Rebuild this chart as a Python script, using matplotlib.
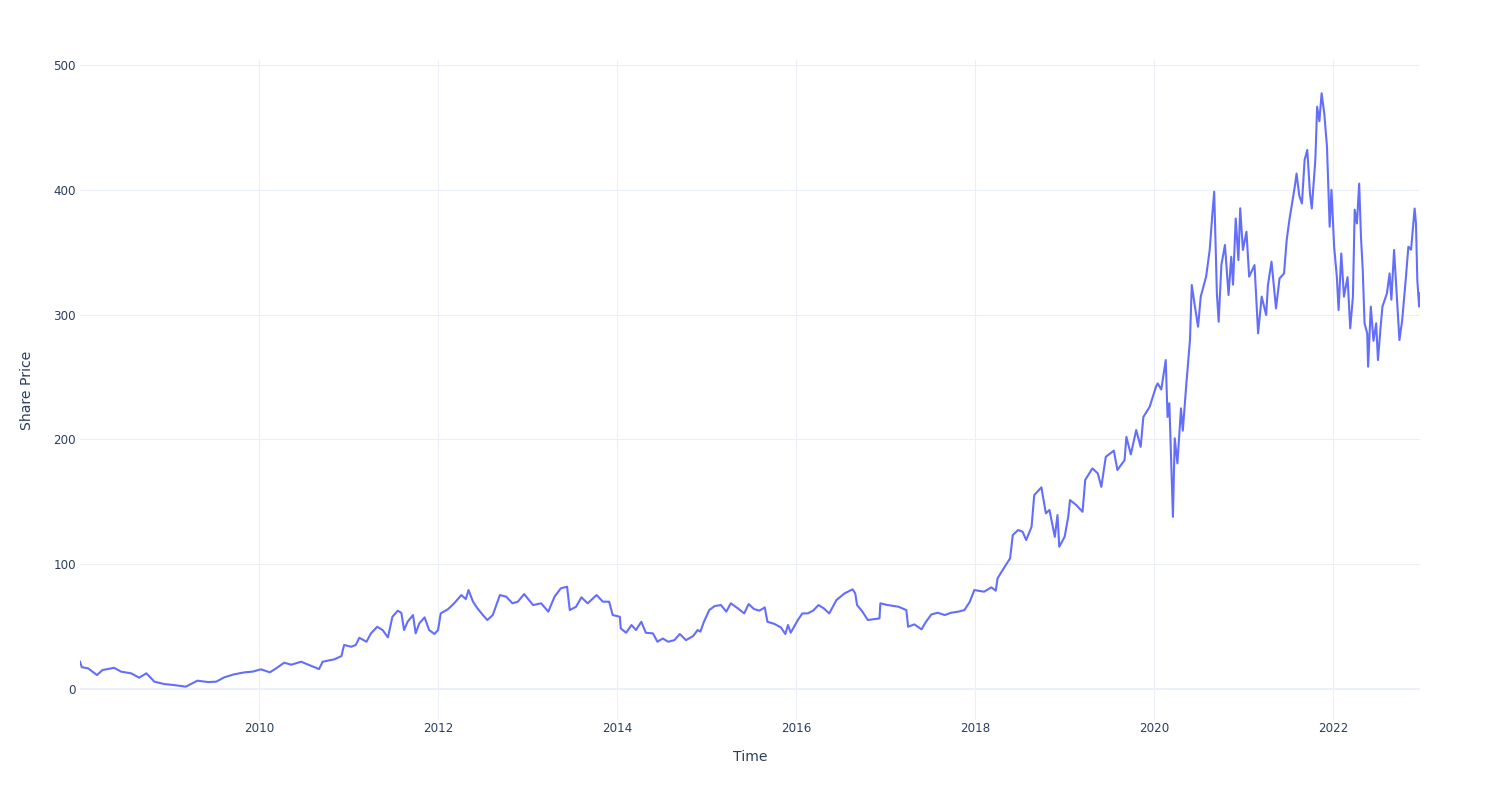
import matplotlib
matplotlib.use("Agg")
import matplotlib.pyplot as plt
import matplotlib.dates as mdates
from datetime import datetime, timedelta

# Decimal-year positions and share price values
years = [
    2008.00, 2008.02, 2008.09, 2008.19, 2008.25, 2008.38, 2008.46, 2008.57, 2008.66, 2008.74,
    2008.83, 2008.94, 2009.05, 2009.18, 2009.31, 2009.43, 2009.52, 2009.61, 2009.72, 2009.84,
    2009.93, 2010.02, 2010.12, 2010.19, 2010.28, 2010.36, 2010.47, 2010.56, 2010.67, 2010.71,
    2010.84, 2010.92, 2010.95, 2011.03, 2011.08, 2011.12, 2011.20, 2011.25, 2011.32, 2011.38,
    2011.44, 2011.49, 2011.55, 2011.59, 2011.62, 2011.66, 2011.72, 2011.75, 2011.79, 2011.85,
    2011.90, 2011.96, 2012.00, 2012.03, 2012.11, 2012.18, 2012.26, 2012.31, 2012.34, 2012.39,
    2012.44, 2012.50, 2012.55, 2012.61, 2012.69, 2012.76, 2012.83, 2012.89, 2012.96, 2013.06,
    2013.15, 2013.23, 2013.30, 2013.37, 2013.44, 2013.47, 2013.54, 2013.60, 2013.67, 2013.77,
    2013.84, 2013.91, 2013.95, 2014.03, 2014.04, 2014.10, 2014.16, 2014.21, 2014.27, 2014.32,
    2014.40, 2014.45, 2014.51, 2014.57, 2014.64, 2014.70, 2014.77, 2014.85, 2014.90, 2014.93,
    2014.97, 2015.03, 2015.09, 2015.16, 2015.22, 2015.27, 2015.35, 2015.42, 2015.47, 2015.53,
    2015.59, 2015.65, 2015.68, 2015.76, 2015.83, 2015.88, 2015.91, 2015.94, 2016.02, 2016.07,
    2016.13, 2016.19, 2016.25, 2016.31, 2016.37, 2016.45, 2016.54, 2016.63, 2016.66, 2016.68,
    2016.74, 2016.80, 2016.87, 2016.93, 2016.94, 2017.02, 2017.14, 2017.23, 2017.25, 2017.32,
    2017.40, 2017.45, 2017.51, 2017.58, 2017.66, 2017.73, 2017.81, 2017.88, 2017.94, 2017.99,
    2018.10, 2018.18, 2018.23, 2018.25, 2018.33, 2018.39, 2018.42, 2018.48, 2018.53, 2018.57,
    2018.63, 2018.66, 2018.74, 2018.79, 2018.83, 2018.89, 2018.92, 2018.94, 2019.00, 2019.04,
    2019.06, 2019.13, 2019.20, 2019.23, 2019.31, 2019.37, 2019.41, 2019.46, 2019.55, 2019.59,
    2019.67, 2019.69, 2019.74, 2019.80, 2019.85, 2019.88, 2019.95, 2020.02, 2020.04, 2020.08,
    2020.13, 2020.15, 2020.17, 2020.21, 2020.23, 2020.26, 2020.30, 2020.32, 2020.36, 2020.40,
    2020.42, 2020.45, 2020.49, 2020.52, 2020.58, 2020.62, 2020.65, 2020.67, 2020.70, 2020.72,
    2020.75, 2020.79, 2020.83, 2020.86, 2020.88, 2020.91, 2020.94, 2020.96, 2020.99, 2021.03,
    2021.06, 2021.12, 2021.16, 2021.20, 2021.25, 2021.27, 2021.31, 2021.36, 2021.40, 2021.45,
    2021.48, 2021.51, 2021.57, 2021.59, 2021.62, 2021.65, 2021.68, 2021.71, 2021.74, 2021.76,
    2021.80, 2021.82, 2021.845, 2021.87, 2021.90, 2021.93, 2021.96, 2021.98, 2022.01, 2022.04,
    2022.06, 2022.09, 2022.12, 2022.16, 2022.19, 2022.22, 2022.24, 2022.265, 2022.29, 2022.31,
    2022.33, 2022.35, 2022.38, 2022.39, 2022.42, 2022.45, 2022.48, 2022.50, 2022.53, 2022.55,
    2022.60, 2022.63, 2022.65, 2022.68, 2022.72, 2022.74, 2022.77, 2022.81, 2022.84, 2022.87,
    2022.91, 2022.925, 2022.94, 2022.96, 2022.97,
]

prices = [
    21.9, 17.5, 16.6, 11.2, 15.2, 17.0, 13.9, 12.6, 9.1, 12.6,
    5.9, 4.0, 3.2, 1.9, 6.7, 5.6, 5.9, 9.4, 11.8, 13.4,
    14.0, 15.8, 13.4, 16.6, 21.1, 19.5, 21.9, 19.2, 16.0, 21.9,
    23.8, 26.4, 35.3, 33.9, 35.3, 41.1, 37.9, 44.6, 49.9, 47.3,
    41.4, 57.9, 62.8, 61.0, 47.3, 53.9, 59.3, 44.6, 52.6, 57.4,
    47.3, 44.1, 47.3, 60.6, 63.9, 68.7, 75.3, 72.1, 79.3, 70.0,
    64.6, 59.3, 55.3, 59.3, 75.3, 74.0, 68.7, 70.0, 76.1, 67.3,
    68.7, 62.0, 74.0, 80.7, 82.0, 63.3, 65.9, 73.5, 68.7, 75.3,
    70.0, 70.0, 59.3, 57.9, 48.6, 45.1, 51.3, 47.3, 53.9, 45.1,
    44.6, 37.9, 40.5, 37.9, 39.2, 44.1, 39.2, 42.5, 47.3, 46.0,
    53.9, 63.3, 66.5, 67.3, 62.0, 68.7, 64.6, 60.6, 68.1, 64.1,
    62.8, 65.4, 53.9, 52.1, 49.4, 44.1, 51.3, 45.1, 55.3, 60.6,
    60.6, 62.8, 67.3, 64.6, 60.6, 71.3, 76.6, 79.9, 76.6, 67.3,
    62.0, 55.3, 56.0, 56.6, 68.7, 67.3, 66.0, 63.3, 49.9, 51.8,
    47.8, 53.9, 59.8, 61.1, 59.3, 61.1, 62.0, 63.3, 70.0, 79.3,
    78.0, 81.5, 78.8, 88.7, 98.0, 104.7, 123.4, 127.4, 126.0, 119.4,
    130.0, 155.4, 161.6, 140.8, 143.5, 122.0, 139.4, 114.0, 122.0, 138.0,
    151.4, 147.4, 142.0, 167.5, 176.8, 172.8, 162.0, 186.1, 191.0, 175.5,
    183.4, 202.0, 188.0, 207.5, 194.0, 218.0, 226.0, 242.0, 244.9, 240.0,
    263.6, 218.0, 229.0, 138.0, 200.9, 180.8, 224.9, 207.0, 245.0, 279.6,
    323.7, 309.0, 290.3, 314.4, 330.4, 351.8, 381.0, 398.5, 317.0, 294.3,
    339.7, 355.8, 315.7, 346.4, 324.0, 377.0, 343.7, 385.2, 351.8, 366.4,
    330.4, 339.7, 285.0, 314.4, 299.7, 323.7, 342.4, 305.0, 329.0, 333.0,
    360.0, 376.0, 402.5, 413.0, 395.5, 389.0, 424.0, 431.9, 397.0, 385.0,
    424.0, 466.6, 455.0, 477.3, 461.0, 434.5, 370.4, 400.0, 354.4, 330.4,
    303.7, 349.0, 314.4, 330.0, 289.0, 314.4, 384.0, 373.0, 405.0, 362.4,
    335.7, 293.0, 285.0, 258.3, 306.4, 279.0, 293.0, 263.6, 290.4, 306.4,
    317.0, 333.0, 312.0, 351.8, 303.7, 279.6, 295.0, 327.7, 354.4, 352.0,
    385.0, 373.0, 327.7, 306.4, 317.0,
]

tick_years = [2010, 2012, 2014, 2016, 2018, 2020, 2022]
y_ticks = [0, 100, 200, 300, 400, 500]
x_title = "Time"
y_title = "Share Price"


def to_date(d):
    y = int(d)
    start = datetime(y, 1, 1)
    ndays = (datetime(y + 1, 1, 1) - start).days
    return start + timedelta(days=(d - y) * ndays)


dates = [to_date(d) for d in years]

plt.rcParams['font.family'] = ['DejaVu Sans']
fig = plt.figure(figsize=(15, 8), dpi=100)
ax = fig.add_axes([80 / 1500, 80 / 800, 1340 / 1500, 660 / 800])

grid_c = "#EBF0F8"
text_c = "#2a3f5f"

ax.plot(dates, prices, color="#636efa", linewidth=1.5, zorder=3)

ax.set_xlim(dates[0], dates[-1])
ax.set_ylim(-24.8, 504)

ax.set_xticks([datetime(y, 1, 1) for y in tick_years])
ax.xaxis.set_major_formatter(mdates.DateFormatter("%Y"))
ax.set_yticks(y_ticks)

for yv in y_ticks:
    if yv == 0:
        ax.axhline(yv, color=grid_c, linewidth=1.5, zorder=1)
    else:
        ax.axhline(yv, color=grid_c, linewidth=0.75, zorder=1)
for ty in tick_years:
    ax.axvline(datetime(ty, 1, 1), color=grid_c, linewidth=0.75, zorder=1)

for s in ax.spines.values():
    s.set_visible(False)

ax.tick_params(axis='both', length=0, labelsize=8.6, labelcolor=text_c)
ax.tick_params(axis='x', pad=1.5)
ax.tick_params(axis='y', pad=3)

ax.set_xlabel(x_title, fontsize=10.1, color=text_c, labelpad=11)
ax.set_ylabel(y_title, fontsize=10.1, color=text_c, labelpad=13.5)

fig.savefig("out.png", dpi=100, facecolor="white")
